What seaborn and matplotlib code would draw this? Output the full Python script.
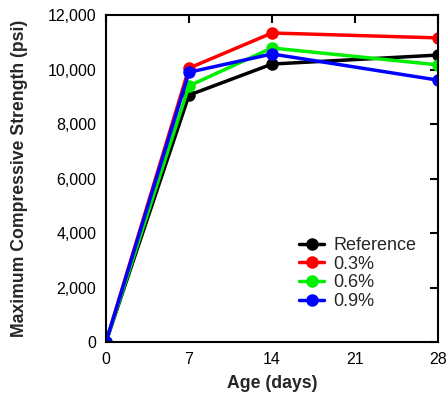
import pandas as pd
import matplotlib
matplotlib.use('Agg')
import matplotlib.pyplot as plt
import seaborn as sns
from matplotlib.ticker import FuncFormatter

sns.set_style('white')
plt.rcParams['font.family'] = ['Liberation Sans', 'DejaVu Sans']

# Data
age = [0, 7, 14, 28]
reference = [0, 9060, 10200, 10530]
fiber_03 = [0, 10050, 11340, 11160]
fiber_06 = [0, 9400, 10790, 10170]
fiber_09 = [0, 9900, 10570, 9610]
series_names = ['Reference', '0.3%', '0.6%', '0.9%']
colors = ['black', 'red', '#00ee00', 'blue']

rows = []
for name, vals in zip(series_names, [reference, fiber_03, fiber_06, fiber_09]):
    for a, v in zip(age, vals):
        rows.append({'Age': a, 'Strength': v, 'Mix': name})
df = pd.DataFrame(rows)

fig = plt.figure(figsize=(4.48, 3.97), dpi=100)
ax = fig.add_axes([0.2366, 0.1385, 0.741, 0.8237])
sns.lineplot(data=df, x='Age', y='Strength', hue='Mix', hue_order=series_names,
             palette=colors, marker='o', markersize=9, markeredgewidth=0,
             linewidth=2.5, ax=ax)

ax.set_xlim(0, 28)
ax.set_ylim(0, 12000)
ax.set_xticks([0, 7, 14, 21, 28])
ax.set_yticks(range(0, 12001, 2000))
ax.yaxis.set_major_formatter(FuncFormatter(lambda v, p: f'{int(v):,}'))
ax.tick_params(direction='in', length=6, width=1.5, labelsize=11.5,
               top=True, right=True, colors='black', pad=7)
for s in ax.spines.values():
    s.set_linewidth(1.5)
    s.set_color('black')
ax.set_xlabel('Age (days)', fontsize=12.7, fontweight='bold', labelpad=6)
ax.set_ylabel('Maximum Compressive Strength (psi)', fontsize=12.7,
              fontweight='bold', labelpad=14)

leg = ax.legend(loc='lower left', bbox_to_anchor=(0.56, 0.075), frameon=False,
                fontsize=13, handlelength=1.4, handletextpad=0.5,
                labelspacing=0.1, borderaxespad=0, title=None)

fig.savefig('out.png', dpi=100)
